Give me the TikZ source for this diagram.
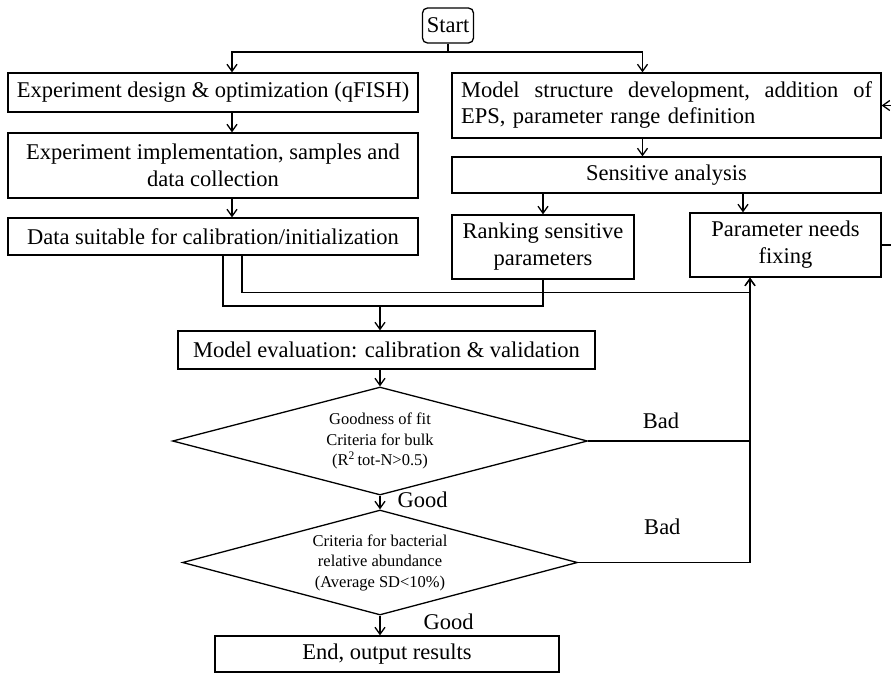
\documentclass[tikz,border=0pt]{standalone}
\usepackage{fontspec}
\setmainfont{Liberation Serif}
\usetikzlibrary{shapes.geometric,arrows.meta}
\begin{document}
\begin{tikzpicture}[x=1pt,y=-1pt]
\tikzstyle{arr} = [-{Straight Barb[length=7pt,width=10pt]}, line width=1.3pt]
\tikzstyle{wire} = [line width=1.3pt]
\tikzstyle{box} = [draw, line width=1.3pt, inner sep=0, align=center, font=\fontsize{22.5}{27}\selectfont]
\tikzstyle{test} = [shape=diamond, draw, line width=1.3pt, inner sep=0, shape aspect=4, align=center, font=\fontsize{16.5}{20.5}\selectfont]
\tikzstyle{lbl} = [inner sep=0, font=\fontsize{22.5}{27}\selectfont]

\useasboundingbox (0,0) rectangle (891,673);

\node [box, rounded corners=5pt, minimum width=51pt, minimum height=35pt] (st) at (448,25.5) {Start};
\node [box, minimum width=410pt, minimum height=39pt] (exd) at (213,92.5) {Experiment design \& optimization (qFISH)};
\node [box, minimum width=410pt, minimum height=65pt] (exi) at (213,165.5) {Experiment implementation, samples and\\data collection};
\node [box, minimum width=410pt, minimum height=37pt] (dat) at (213,236.5) {Data suitable for calibration/initialization};
\node [box, minimum width=429pt, minimum height=65pt, inner xsep=9pt, text width=411pt, align=left, font=\fontsize{22.5}{26}\selectfont] (ms) at (666.5,105.5) {\makebox[411pt][s]{Model\hfill structure\hfill development,\hfill addition\hfill of}\\EPS, parameter range definition};
\node [box, minimum width=429pt, minimum height=36pt] (sa) at (666.5,175) {Sensitive analysis};
\node [box, minimum width=182pt, minimum height=64pt] (rk) at (543,247) {Ranking sensitive\\parameters};
\node [box, minimum width=191pt, minimum height=64pt] (pf) at (785.5,245) {Parameter needs\\fixing};
\node [box, minimum width=417pt, minimum height=38pt] (me) at (386.5,350) {Model evaluation: calibration \& validation};
\node [test, minimum width=415pt, minimum height=108pt] (d1) at (380,441) {Goodness of fit\\Criteria for bulk\\(R\textsuperscript{2}\,tot-N>0.5)};
\node [test, minimum width=395pt, minimum height=105pt] (d2) at (380,562.5) {Criteria for bacterial\\relative abundance\\(Average SD<10\%)};
\node [box, minimum width=344pt, minimum height=36pt] (ed) at (387,654) {End, output results};

\coordinate (spl) at (st.south |- 0,52);
\coordinate (pfin) at ([xshift=-42.5pt]pf.north);
\coordinate (pfb) at ([xshift=-35.5pt]pf.south);
\coordinate (mrg) at (380,306);

\draw [wire] (st) -- (spl);
\draw [arr] (spl) -| ([xshift=19pt]exd.north);
\draw [arr] (spl) -| ([xshift=-24pt]ms.north);
\draw [arr] ([xshift=19pt]exd.south) -- ([xshift=19pt]exi.north);
\draw [arr] ([xshift=19pt]exi.south) -- ([xshift=19pt]dat.north);
\draw [arr] ([xshift=-24pt]ms.south) -- ([xshift=-24pt]sa.north);
\draw [arr] (rk.north |- sa.south) -- (rk.north);
\draw [arr] (pfin |- sa.south) -- (pfin);
\draw [arr] ([xshift=29pt]dat.south) -- ++(0,37) -| (pfb);
\draw [wire] ([xshift=10pt]dat.south) |- (mrg) -| (rk.south);
\draw [arr] (mrg) -- (mrg |- me.north);
\draw [arr] (mrg |- me.south) -- (d1.north);
\draw [arr] (d1.south) -- node [lbl, right=17pt, pos=0.3] {Good} (d2.north);
\draw [arr] (d2.south) -- node [lbl, right=43pt, pos=0.3] {Good} (d2.south |- ed.north);
\draw [arr] (d1.east) -- node [lbl, above=12pt, pos=0.45] {Bad} (pfb |- d1.east) -- (pfb);
\draw [wire] (d2.east) -- node [lbl, above=27.5pt, pos=0.49] {Bad} (pfb |- d2.east) -- (pfb |- d1.east);
\draw [arr] (pf.east) -- ++(12,0) |- (ms.east);
\end{tikzpicture}
\end{document}
